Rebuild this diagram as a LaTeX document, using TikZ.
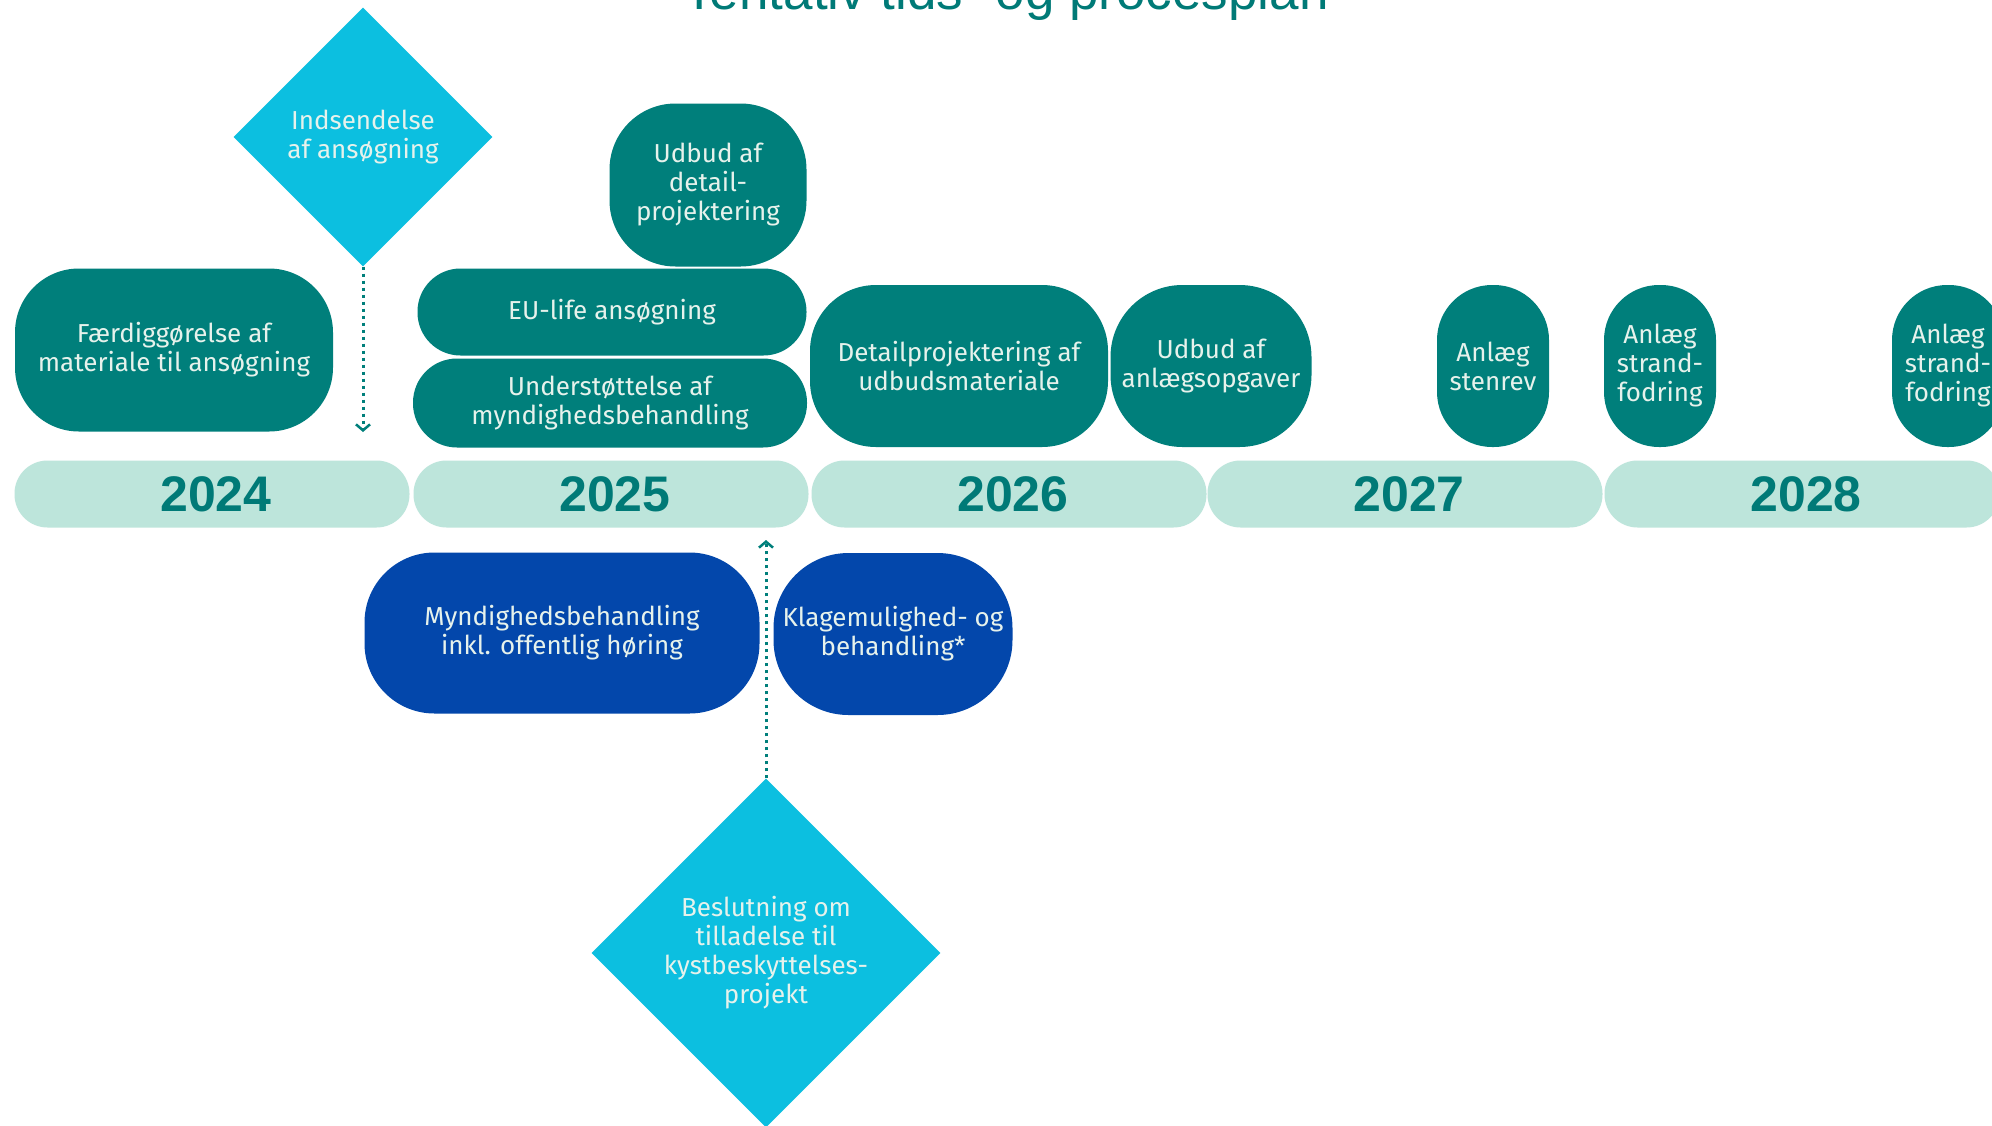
\documentclass[tikz,border=0pt]{standalone}
\usepackage{fontspec}
\setmainfont{Fira Sans}
\newfontfamily\yearfont{Liberation Sans}
\usetikzlibrary{shapes.geometric,arrows.meta}
\definecolor{teal1}{HTML}{007F7B}
\definecolor{mint}{HTML}{BDE5DB}
\definecolor{yeartxt}{HTML}{007A77}
\definecolor{cyan1}{HTML}{0CBFE0}
\definecolor{blue1}{HTML}{0347AB}
\definecolor{txtw}{HTML}{E6F2EC}
\tikzset{
  box/.style={rectangle, fill=teal1, text=txtw, align=center, inner sep=0pt,
    font=\fontsize{26}{29}\selectfont},
  bluebox/.style={box, fill=blue1},
  yearbar/.style={rectangle, fill=mint, text=yeartxt, minimum width=395pt,
    minimum height=67pt, rounded corners=33pt, inner sep=0pt,
    font=\yearfont\bfseries\fontsize{50}{50}\selectfont},
  gem/.style={diamond, fill=cyan1, text=txtw, align=center, inner sep=0pt,
    aspect=1, font=\fontsize{26}{29}\selectfont},
  dotarrow/.style={draw=teal1, line width=3pt, dash pattern=on 3pt off 4pt,
    -{Straight Barb[length=6pt,width=14pt,line width=2.5pt]}}
}
\begin{document}
\begin{tikzpicture}[x=1pt,y=-1pt]
\useasboundingbox (0,0) rectangle (1992,1125);
\clip (0,0) rectangle (1992,1125);
\fill[white] (0,0) rectangle (1992,1125);

% title (cut off at top)
\node[text=yeartxt, font=\yearfont\fontsize{53}{53}\selectfont, anchor=base] (title) at (1006,9) {Tentativ tids- og procesplan};

% year bars
\node[yearbar] (y2024) at (212,494) {\hspace*{8pt}2024};
\node[yearbar] (y2025) at (611,494) {\hspace*{8pt}2025};
\node[yearbar] (y2026) at (1009,494) {\hspace*{8pt}2026};
\node[yearbar] (y2027) at (1405,494) {\hspace*{8pt}2027};
\node[yearbar] (y2028) at (1802,494) {\hspace*{8pt}2028};

% upper boxes
\node[box, minimum width=318pt, minimum height=163pt, rounded corners=64pt] (faerdig) at (174,350) {Færdiggørelse af\\materiale til ansøgning};
\node[box, minimum width=389pt, minimum height=87pt, rounded corners=43pt] (eulife) at (612,312) {EU-life ansøgning};
\node[box, minimum width=394pt, minimum height=89pt, rounded corners=44pt] (under) at (610,403) {Understøttelse af\\myndighedsbehandling};
\node[box, minimum width=197pt, minimum height=163pt, rounded corners=66pt] (udbuddet) at (708,185) {Udbud af\\detail-\\projektering};
\node[box, minimum width=298pt, minimum height=162pt, rounded corners=66pt] (detail) at (959,366) {Detailprojektering af\\udbudsmateriale};
\node[box, minimum width=201pt, minimum height=162pt, rounded corners=72pt] (udbudanl) at (1211,366) {Udbud af\\anlægsopgaver};
\node[box, minimum width=112pt, minimum height=162pt, rounded corners=55pt] (stenrev) at (1493,366) {Anlæg\\stenrev};
\node[box, minimum width=112pt, minimum height=162pt, rounded corners=55pt] (strand1) at (1660,366) {Anlæg\\strand-\\fodring};
\node[box, minimum width=112pt, minimum height=162pt, rounded corners=55pt] (strand2) at (1948,366) {Anlæg\\strand-\\fodring};

% lower boxes
\node[bluebox, minimum width=395pt, minimum height=161pt, rounded corners=70pt] (mynd) at (562,633) {Myndighedsbehandling\\inkl. offentlig høring};
\node[bluebox, minimum width=239pt, minimum height=162pt, rounded corners=75pt] (klage) at (893,634) {Klagemulighed- og\\behandling*};

% diamonds
\node[gem, minimum width=259pt, minimum height=259pt] (indsend) at (363,137) {Indsendelse\\af ansøgning};
\node[gem, minimum width=349pt, minimum height=349pt] (beslut) at (766,953) {Beslutning om\\tilladelse til\\kystbeskyttelses-\\projekt};

% dotted arrows
\coordinate (a1end) at (363,432);
\coordinate (a2end) at (766,540);
\draw[dotarrow] (indsend.south) -- (a1end);
\draw[dotarrow] (beslut.north) -- (a2end);
\end{tikzpicture}
\end{document}
